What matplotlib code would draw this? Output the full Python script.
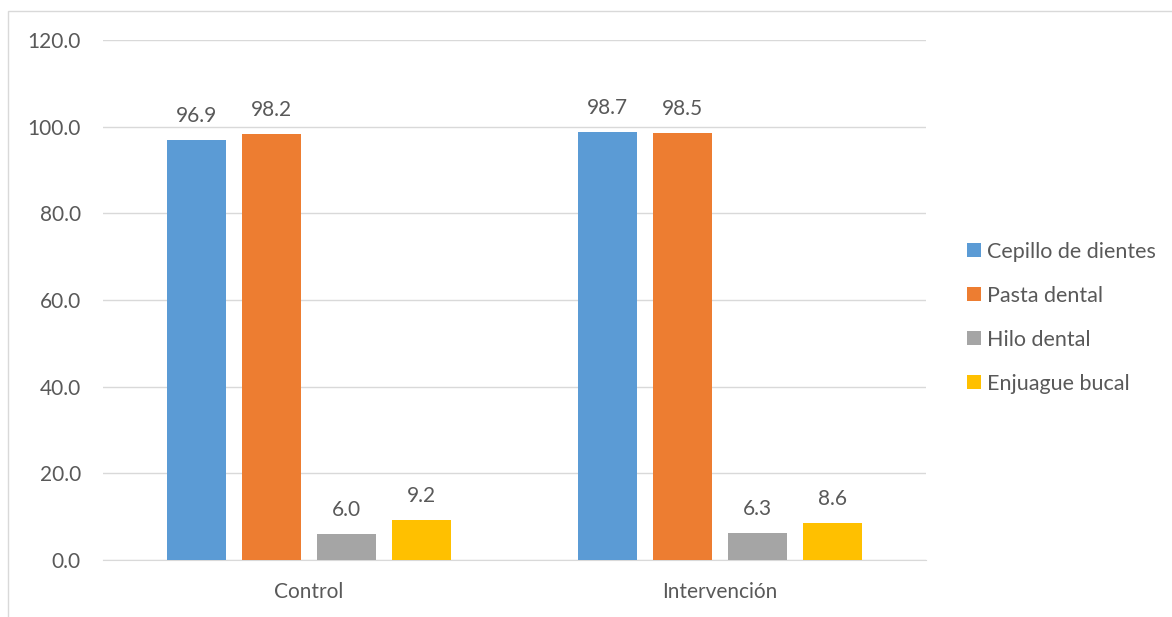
import matplotlib.pyplot as plt
import numpy as np
from matplotlib.patches import Rectangle

groups = ['Control', 'Intervención']
series = ['Cepillo de dientes', 'Pasta dental', 'Hilo dental', 'Enjuague bucal']
values = [[96.9, 98.7],
          [98.2, 98.5],
          [6.0, 6.3],
          [9.2, 8.6]]
colors = ['#5b9bd5', '#ed7d31', '#a5a5a5', '#ffc000']
yticks = [0, 20, 40, 60, 80, 100, 120]

txt = '#595959'
fs = 15
plt.rcParams['font.family'] = ['Lato', 'DejaVu Sans']

fig = plt.figure(figsize=(11.72, 6.17), dpi=100)
ax = fig.add_axes([103/1172, 1-560/617, 823/1172, 520/617])

# chart frame (cut off on right/bottom)
fig.patches.append(Rectangle((8/1172, -0.1), 1.2, (617-11)/617 + 0.1,
                             transform=fig.transFigure, fill=False,
                             edgecolor='#d9d9d9', linewidth=1))

x = np.arange(len(groups))
pitch = 0.182
width = 0.143
for j, (name, vals, c) in enumerate(zip(series, values, colors)):
    pos = x + (j - 1.5) * pitch
    bars = ax.bar(pos, vals, width=width, color=c, label=name, zorder=3)
    for b, v in zip(bars, vals):
        ax.annotate(f'{v:.1f}', (b.get_x() + b.get_width()/2, v),
                    xytext=(0, 13), textcoords='offset points',
                    ha='center', va='baseline', fontsize=fs, color=txt)

ax.set_xlim(-0.5, 1.5)
ax.set_ylim(0, 120)
ax.set_yticks(yticks)
ax.set_yticklabels([f'{t:.1f}' for t in yticks])
ax.set_xticks(x)
ax.set_xticklabels(groups)
ax.tick_params(axis='both', length=0, labelsize=fs, colors=txt)
ax.tick_params(axis='y', pad=16)
ax.tick_params(axis='x', pad=16)
ax.grid(axis='y', color='#d9d9d9', linewidth=1, zorder=0)
for s in ['top', 'right', 'left']:
    ax.spines[s].set_visible(False)
ax.spines['bottom'].set_color('#d9d9d9')

leg = ax.legend(loc='center left', bbox_to_anchor=(1.0498, 0.466), frameon=False,
                fontsize=15.5, handlelength=0.65, handleheight=0.65,
                handletextpad=0.3, labelspacing=1.12,
                borderpad=0, borderaxespad=0)
for t in leg.get_texts():
    t.set_color(txt)

fig.savefig('out.png', dpi=100)
